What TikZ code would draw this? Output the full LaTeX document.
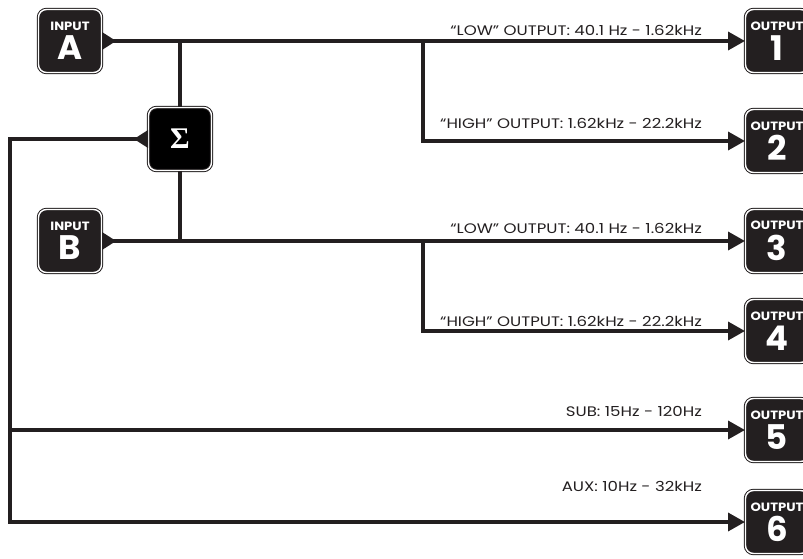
\documentclass[tikz,border=0pt]{standalone}
\usepackage{fontspec}
\setmainfont{Poppins}
\newfontfamily\bandfont{Poppins}[FakeStretch=1.2]
\newfontfamily\tagfont{Poppins}[FakeStretch=1.1]
\newfontfamily\sigmafont{Liberation Serif}
\usetikzlibrary{calc,arrows.meta}
\definecolor{boxfill}{HTML}{231F20}

\begin{document}
\begin{tikzpicture}[x=1pt, y=1pt, every node/.style={inner sep=0pt},
  unit/.style={rounded corners=8pt, fill=boxfill, draw=boxfill, line width=1pt,
    double=white, double distance=1.4pt, minimum width=63pt, minimum height=63pt,
    text=white, align=center, font=\bfseries},
  wire/.style={draw=boxfill, line width=3.5pt},
  feed/.style={wire, -{Triangle[width=18pt,length=17pt]}},
  band/.style={anchor=east, text=boxfill, font=\bandfont\fontsize{13.8}{13.8}\selectfont}]
  \clip (0,0) rectangle (803,558);
  % inputs and summing box
  \node[unit] (inA) at (70,517) {\tagfont\fontsize{12}{12}\selectfont INPUT\\[4pt]\fontsize{34}{30}\selectfont A};
  \node[unit] (inB) at (70,317) {\tagfont\fontsize{12}{12}\selectfont INPUT\\[4pt]\fontsize{34}{30}\selectfont B};
  \node[unit, fill=black] (sum) at (180,419) {\sigmafont\fontsize{30}{30}\selectfont Σ};
  % outputs
  \node[unit] (out1) at (777,517) {\tagfont\fontsize{12}{12}\selectfont OUTPUT\\[4pt]\fontsize{34}{30}\selectfont 1};
  \node[unit] (out2) at (777,417) {\tagfont\fontsize{12}{12}\selectfont OUTPUT\\[4pt]\fontsize{34}{30}\selectfont 2};
  \node[unit] (out3) at (777,317) {\tagfont\fontsize{12}{12}\selectfont OUTPUT\\[4pt]\fontsize{34}{30}\selectfont 3};
  \node[unit] (out4) at (777,227) {\tagfont\fontsize{12}{12}\selectfont OUTPUT\\[4pt]\fontsize{34}{30}\selectfont 4};
  \node[unit] (out5) at (777,128) {\tagfont\fontsize{12}{12}\selectfont OUTPUT\\[4pt]\fontsize{34}{30}\selectfont 5};
  \node[unit] (out6) at (777,36) {\tagfont\fontsize{12}{12}\selectfont OUTPUT\\[4pt]\fontsize{34}{30}\selectfont 6};
  \coordinate (jA) at (180,517);
  \coordinate (jB) at (180,317);
  \coordinate (kA) at (423,517);
  \coordinate (kB) at (423,317);
  \coordinate (bus) at (10,419);
  % wiring
  \draw[feed] (inA.east) -- (out1.west);
  \draw[feed] (inB.east) -- (out3.west);
  \draw[wire] (jA) -- (sum.north);
  \draw[wire] (sum.south) -- (jB);
  \draw[feed] (kA) |- (out2.west);
  \draw[feed] (kB) |- (out4.west);
  \draw[feed] (sum.west) -- (bus) |- (out6.west);
  \draw[feed] (bus |- out5.west) -- (out5.west);
  \fill[boxfill] ($(inA.east)+(0,9)$) -- ($(inA.east)+(14,0)$) -- ($(inA.east)+(0,-9)$) -- cycle;
  \fill[boxfill] ($(inB.east)+(0,9)$) -- ($(inB.east)+(14,0)$) -- ($(inB.east)+(0,-9)$) -- cycle;
  \fill[boxfill] ($(sum.west)+(0,9)$) -- ($(sum.west)+(-14,0)$) -- ($(sum.west)+(0,-9)$) -- cycle;
  % band labels
  \node[band] (lowA) at (702,528) {“LOW” OUTPUT: 40.1 Hz - 1.62kHz};
  \node[band] (highA) at (702,435) {“HIGH” OUTPUT: 1.62kHz - 22.2kHz};
  \node[band] (lowB) at (702,330) {“LOW” OUTPUT: 40.1 Hz - 1.62kHz};
  \node[band] (highB) at (702,237) {“HIGH” OUTPUT: 1.62kHz - 22.2kHz};
  \node[band] (subL) at (702,147) {SUB: 15Hz - 120Hz};
  \node[band] (auxL) at (702,72) {AUX: 10Hz - 32kHz};
\end{tikzpicture}
\end{document}
